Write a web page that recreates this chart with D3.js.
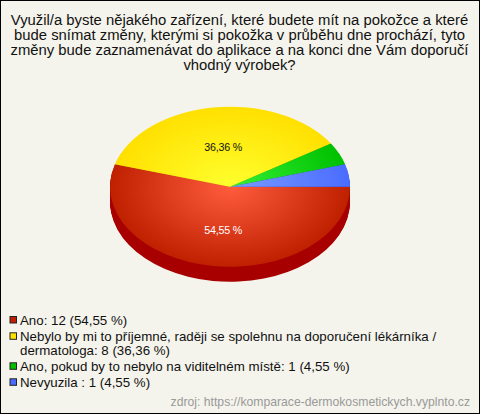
<!DOCTYPE html>
<html><head><meta charset="utf-8">
<script src="https://cdn.jsdelivr.net/npm/d3@7"></script>
<style>html,body{margin:0;padding:0;background:#f5f4ec}svg{display:block}text{font-family:"Liberation Sans",Arial,sans-serif}</style>
</head><body><svg id="c" width="480" height="414"></svg>
<script>
const titleLines=["Využil/a byste nějakého zařízení, které budete mít na pokožce a které","bude snímat změny, kterými si pokožka v průběhu dne prochází, tyto","změny bude zaznamenávat do aplikace a na konci dne Vám doporučí","vhodný výrobek?"];
const categories=["Ano","Nebylo by mi to příjemné, raději se spolehnu na doporučení lékárníka / dermatologa","Ano, pokud by to nebylo na viditelném místě","Nevyuzila "];
const counts=[12,8,1,1];
const percents=["54,55 %","36,36 %","4,55 %","4,55 %"];
const legendLines=[["Ano: 12 (54,55 %)"],["Nebylo by mi to příjemné, raději se spolehnu na doporučení lékárníka /","dermatologa: 8 (36,36 %)"],["Ano, pokud by to nebylo na viditelném místě: 1 (4,55 %)"],["Nevyuzila : 1 (4,55 %)"]];
const colorsCenter=["#ff5c3e","#ffff2e","#36f036","#7a9cff"];
const colorsEdge=["#bf2000","#ffe000","#00c000","#4a6cff"];
const colorsSide=["#a80000","#c0a000","#008000","#2040c0"];
const legendFill=["#c02000","#ffe000","#00c000","#4a6cff"];
const source="zdroj: https://komparace-dermokosmetickych.vyplnto.cz";

const W=480,H=414,cx=230,cy=186.7,rx=120,ry=80,depth=15;
const svg=d3.select("#c");
svg.append("rect").attr("x",.5).attr("y",.5).attr("width",W-1).attr("height",H-1).attr("fill","#f5f4ec").attr("stroke","#000");

svg.append("g").selectAll("text").data(titleLines).join("text")
 .attr("x",W/2-.5).attr("y",(d,i)=>24.7+i*15.1).attr("text-anchor","middle").attr("font-size",14.85).attr("fill","#111").text(d=>d);

const defs=svg.append("defs");
colorsCenter.forEach((c,i)=>{
 const g=defs.append("radialGradient").attr("id","g"+i).attr("gradientUnits","userSpaceOnUse").attr("cx",0).attr("cy",0).attr("r",1);
 g.append("stop").attr("offset",0).attr("stop-color",c);
 g.append("stop").attr("offset",1).attr("stop-color",colorsEdge[i]);
});
const pie=d3.pie().sort(null).startAngle(Math.PI/2).endAngle(Math.PI*2.5);
const arcs=pie(counts);
const arc=d3.arc().innerRadius(0).outerRadius(1);
const layers=d3.range(depth,0,-1);
layers.forEach(dy=>{
 svg.append("g").attr("transform",`translate(${cx},${cy+dy}) scale(${rx},${ry})`)
  .selectAll("path").data(arcs).join("path").attr("d",arc).attr("fill",(d,i)=>colorsSide[i]);
});
svg.append("g").attr("transform",`translate(${cx},${cy}) scale(${rx},${ry})`)
 .selectAll("path").data(arcs).join("path").attr("d",arc).attr("fill",(d,i)=>`url(#g${i})`);

const labelArc=d3.arc().innerRadius(.5).outerRadius(.5);
const labelled=[0,1];
svg.append("g").selectAll("text").data(labelled).join("text")
 .attr("x",i=>cx+labelArc.centroid(arcs[i])[0]*rx+1.8)
 .attr("y",i=>cy+labelArc.centroid(arcs[i])[1]*ry+(i==0?7.7:3.9))
 .attr("text-anchor","middle").attr("font-size",10.7).attr("letter-spacing",-.2)
 .attr("fill",i=>i==0?"#fff":"#111").text(i=>percents[i]);

const baselines=[324.5,340.8,370.8,386.8];
const leg=svg.append("g");
legendLines.forEach((ls,i)=>{
 leg.append("rect").attr("x",10).attr("y",baselines[i]-8).attr("width",6.5).attr("height",6.5).attr("fill",legendFill[i]).attr("stroke","#222");
 ls.forEach((t,j)=>leg.append("text").attr("x",20).attr("y",baselines[i]+j*14).attr("font-size",13.3).attr("fill","#111").text(t));
});
svg.append("text").attr("x",470).attr("y",406).attr("text-anchor","end").attr("font-size",12.2).attr("fill","#999").text(source);
</script></body></html>
